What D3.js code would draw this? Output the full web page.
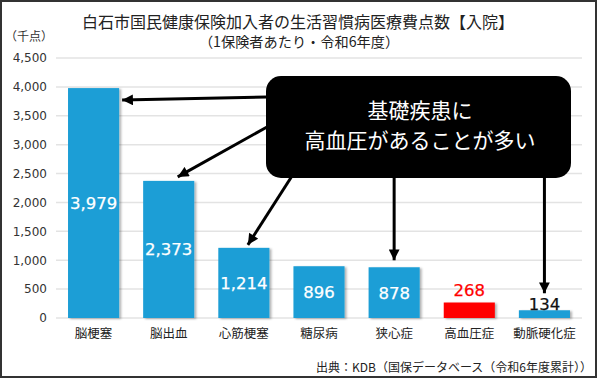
<!DOCTYPE html>
<html><head><meta charset="utf-8">
<script src="https://cdn.jsdelivr.net/npm/d3@7"></script>
<style>
html,body{margin:0;padding:0;background:#fff;}
svg{display:block;font-family:"Noto Sans CJK JP","Noto Sans",sans-serif;}
</style></head>
<body><svg id="c" width="599" height="379"></svg>
<script>
const categories = ["脳梗塞","脳出血","心筋梗塞","糖尿病","狭心症","高血圧症","動脈硬化症"];
const values = [3979, 2373, 1214, 896, 878, 268, 134];
const highlighted = ["高血圧症"];
const yTicks = [0,500,1000,1500,2000,2500,3000,3500,4000,4500];
const arrowTargets = ["脳梗塞","脳出血","心筋梗塞","狭心症","動脈硬化症"];
const title = "白石市国民健康保険加入者の生活習慣病医療費点数【入院】";
const subtitle = "（1保険者あたり・令和6年度）";
const unitLabel = "（千点）";
const sourceText = "出典：KDB（国保データベース（令和6年度累計））";
const calloutLines = ["基礎疾患に","高血圧があることが多い"];

const svg = d3.select("#c");
const defs = svg.append("defs");
const f = defs.append("filter").attr("id","sh").attr("x","-20%").attr("y","-20%").attr("width","150%").attr("height","150%");
f.append("feDropShadow").attr("dx",2).attr("dy",1).attr("stdDeviation",1.2).attr("flood-color","#000").attr("flood-opacity",0.3);
const m = defs.append("marker").attr("id","ah").attr("viewBox","0 0 10 10").attr("refX",10).attr("refY",5)
  .attr("markerWidth",4).attr("markerHeight",3.6).attr("markerUnits","strokeWidth").attr("orient","auto");
m.append("path").attr("d","M0,0 L10,5 L0,10 Z").attr("fill","#000");

svg.append("rect").attr("x",1).attr("y",1).attr("width",595).attr("height",376)
  .attr("fill","#fff").attr("stroke","#333").attr("stroke-width",2);

const x = d3.scaleBand().domain(categories).range([56,582]).paddingInner(0.32).paddingOuter(0.16);
const y = d3.scaleLinear().domain([0,4500]).range([318,58]);

// grid
svg.append("g").selectAll("line").data(yTicks).join("line")
  .attr("x1",56).attr("x2",582).attr("y1",d=>y(d)).attr("y2",d=>y(d))
  .attr("stroke","#e3e3e3").attr("stroke-width",1.5);

// y axis labels
const ya = svg.append("g").attr("transform","translate(56,0)")
  .call(d3.axisLeft(y).tickValues(yTicks).tickFormat(d3.format(",")).tickSize(0).tickPadding(9));
ya.select(".domain").remove();
ya.selectAll("text").attr("font-size",12).attr("fill","#333").attr("font-family","'DejaVu Sans',sans-serif");

// x axis labels
const xa = svg.append("g").attr("transform","translate(0,318)")
  .call(d3.axisBottom(x).tickSize(0).tickPadding(11));
xa.select(".domain").remove();
xa.selectAll("text").attr("font-size",12.5).attr("fill","#222").attr("font-family","'Noto Sans CJK JP',sans-serif");

const data = categories.map((c,i)=>({c,v:values[i]}));
svg.append("g").selectAll("rect").data(data).join("rect")
  .attr("x",d=>x(d.c)).attr("width",x.bandwidth())
  .attr("y",d=>y(d.v)).attr("height",d=>y(0)-y(d.v))
  .attr("fill",d=>highlighted.includes(d.c)?"#ff0000":"#1a9ed6")
  .attr("filter","url(#sh)");

const inside = d => y(0)-y(d.v) > 40;
const labColor = d => inside(d) ? "#fff" : (highlighted.includes(d.c) ? "#ff0000" : "#111");
svg.append("g").selectAll("text").data(data).join("text")
  .attr("x",d=>x(d.c)+x.bandwidth()/2)
  .attr("y",d=> inside(d) ? (y(d.v)+y(0))/2 : y(d.v) - (highlighted.includes(d.c) ? 12.5 : 6))
  .attr("dy","0.36em").attr("text-anchor","middle")
  .attr("font-family","'DejaVu Sans',sans-serif")
  .attr("font-size",16.5)
  .attr("fill",labColor).attr("stroke",labColor).attr("stroke-width",0.25)
  .text(d=>d3.format(",")(d.v));

// titles
svg.append("text").attr("x",298).attr("y",22).attr("dy","0.36em").attr("text-anchor","middle")
  .attr("font-size",16).attr("fill","#222").text(title);
svg.append("text").attr("x",299).attr("y",42).attr("dy","0.36em").attr("text-anchor","middle")
  .attr("font-size",14.2).attr("fill","#222").text(subtitle);
svg.append("text").attr("x",29).attr("y",37).attr("dy","0.36em").attr("text-anchor","middle")
  .attr("font-size",12).attr("fill","#333").text(unitLabel);
svg.append("text").attr("x",592).attr("y",368).attr("dy","0.36em").attr("text-anchor","end")
  .attr("font-size",12).attr("fill","#222").text(sourceText);

// arrows
const cx = c => x(c)+x.bandwidth()/2;
const val = c => values[categories.indexOf(c)];
const arrows = [
  {x1:267,y1:97, x2:x(arrowTargets[0])+x.bandwidth()+3, y2:y(val(arrowTargets[0]))+12},
  {x1:267,y1:127, x2:cx(arrowTargets[1])+9, y2:y(val(arrowTargets[1]))-4},
  {x1:292,y1:176, x2:cx(arrowTargets[2])+4, y2:y(val(arrowTargets[2]))-3},
  {x1:cx(arrowTargets[3]),y1:176, x2:cx(arrowTargets[3]), y2:y(val(arrowTargets[3]))-7},
  {x1:cx(arrowTargets[4]),y1:176, x2:cx(arrowTargets[4]), y2:y(val(arrowTargets[4]))-17}
];
svg.append("g").selectAll("line").data(arrows).join("line")
  .attr("x1",d=>d.x1).attr("y1",d=>d.y1).attr("x2",d=>d.x2).attr("y2",d=>d.y2)
  .attr("stroke","#000").attr("stroke-width",3).attr("marker-end","url(#ah)");

// callout
svg.append("rect").attr("x",266).attr("y",76).attr("width",305).attr("height",102)
  .attr("rx",15).attr("fill","#000");
svg.append("g").selectAll("text").data(calloutLines).join("text")
  .attr("x",420).attr("y",(d,i)=>110+i*30).attr("dy","0.36em").attr("text-anchor","middle")
  .attr("font-size",21).attr("fill","#fff").text(d=>d);
</script></body></html>
